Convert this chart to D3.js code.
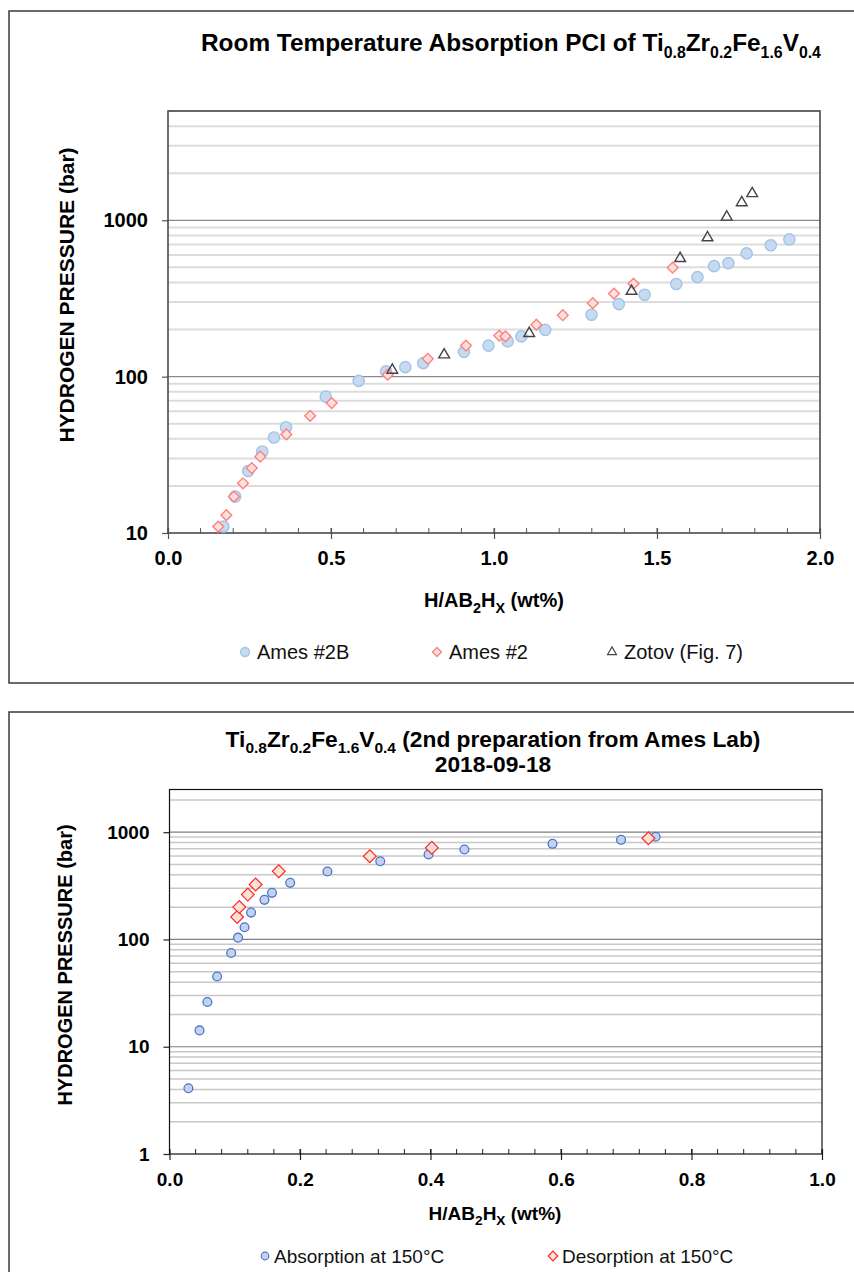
<!DOCTYPE html>
<html><head><meta charset="utf-8">
<script src="https://cdn.jsdelivr.net/npm/d3@7"></script>
<style>
body{margin:0;background:#fff;}
svg{display:block;font-family:"Liberation Sans",Arial,sans-serif;}
</style>
</head><body>
<svg id="c" width="854" height="1272"></svg>
<script>
// ---------- Top chart data: [H wt%, pressure bar] ----------
const ames2B = [[0.170,11],[0.206,17.1],[0.246,24.9],[0.289,33.2],[0.325,40.8],[0.362,47.5],[0.484,74.5],[0.585,94],[0.669,108],[0.728,115],[0.783,122],[0.908,144],[0.983,158],[1.042,168],[1.084,181],[1.157,199],[1.299,249],[1.383,291],[1.462,334],[1.559,391],[1.624,433],[1.675,509],[1.719,532],[1.775,614],[1.849,692],[1.906,755]];
const ames2 = [[0.154,11],[0.179,13],[0.202,17.1],[0.230,20.8],[0.257,26],[0.283,30.8],[0.363,42.7],[0.436,56.2],[0.502,67.8],[0.674,103],[0.797,130],[0.914,158],[1.016,183],[1.035,181],[1.130,215],[1.211,247],[1.303,295],[1.368,340],[1.428,393],[1.548,498]];
const zotov = [[0.688,110],[0.847,138],[1.108,189],[1.422,352],[1.571,570],[1.655,774],[1.714,1050],[1.760,1297],[1.792,1483]];
const topXTicks = [0, 0.5, 1.0, 1.5, 2.0];
const topYTicks = [10, 100, 1000];
const topLegend = ["Ames #2B", "Ames #2", "Zotov (Fig. 7)"];

// ---------- Bottom chart data ----------
const absorption150 = [[0.029,4.1],[0.046,14.2],[0.058,26.1],[0.073,45.2],[0.0945,74.8],[0.105,104],[0.115,130],[0.125,178],[0.1455,234],[0.157,272],[0.185,337],[0.242,430],[0.323,536],[0.397,619],[0.452,689],[0.587,779],[0.692,849],[0.745,906]];
const desorption150 = [[0.1037,162],[0.107,201],[0.120,262],[0.132,325],[0.1675,433],[0.307,597],[0.402,715],[0.734,879]];
const botXTicks = [0, 0.2, 0.4, 0.6, 0.8, 1.0];
const botYTicks = [1, 10, 100, 1000];
const botLegend = ["Absorption at 150°C", "Desorption at 150°C"];

const svg = d3.select("#c");

function rich(g, parts, fs, subScale, attrs) {
  const t = g.append("text");
  for (const k in attrs) t.attr(k, attrs[k]);
  let inSub = false;
  parts.forEach(([s, sub]) => {
    const ts = t.append("tspan").text(s);
    if (sub && !inSub) { ts.attr("dy", fs*0.28).attr("font-size", fs*subScale); inSub = true; }
    else if (sub) { ts.attr("font-size", fs*subScale); }
    else if (!sub && inSub) { ts.attr("dy", -fs*0.28).attr("font-size", fs); inSub = false; }
    else ts.attr("font-size", fs);
  });
  return t;
}
function fitRich(g, parts, fs0, subScale, attrs, targetW) {
  let t = rich(g, parts, fs0, subScale, attrs);
  const w = t.node().getBBox().width;
  const fs = fs0 * targetW / w;
  t.remove();
  return rich(g, parts, fs, subScale, attrs);
}

function gridAndAxes(g, x, y, cfg) {
  const [x0, x1] = x.range(); const [yb, yt] = y.range();
  const [d0, d1] = y.domain();
  const minor = [], major = [];
  for (let dec = Math.pow(10, Math.floor(Math.log10(d0))); dec <= d1; dec *= 10) {
    for (let k = 1; k <= 9; k++) {
      const v = k*dec;
      if (v < d0 || v > d1) continue;
      (k === 1 ? major : minor).push(v);
    }
  }
  g.selectAll(".gmin").data(minor).join("line")
    .attr("x1", x0).attr("x2", x1).attr("y1", d => y(d)).attr("y2", d => y(d))
    .attr("stroke", cfg.minorColor).attr("stroke-width", cfg.minorWidth);
  g.selectAll(".gmaj").data(major.filter(v => v !== d0)).join("line")
    .attr("x1", x0).attr("x2", x1).attr("y1", d => y(d)).attr("y2", d => y(d))
    .attr("stroke", cfg.majorColor).attr("stroke-width", 1.2);
  const mt = d3.range(x.domain()[0], x.domain()[1] + 1e-9, cfg.minorStep);
  g.selectAll(".mt").data(mt).join("line")
    .attr("x1", d => x(d)).attr("x2", d => x(d)).attr("y1", yb).attr("y2", yb - 5)
    .attr("stroke", cfg.axisColor).attr("stroke-width", 1);
  const xa = g.append("g").attr("transform", `translate(0,${yb})`)
    .call(d3.axisBottom(x).tickValues(cfg.xTicks).tickFormat(d3.format(".1f")).tickSize(6).tickPadding(cfg.xPad));
  xa.select(".domain").remove();
  xa.selectAll(".tick line").attr("stroke", cfg.axisColor).attr("y1", -5).attr("stroke-width", 1.2);
  xa.selectAll(".tick text").attr("font-size", cfg.tickFs).attr("font-weight", "bold")
    .attr("fill", "#000").attr("font-family", '"Liberation Sans",Arial,sans-serif');
  const ya = g.append("g").attr("transform", `translate(${x0},0)`)
    .call(d3.axisLeft(y).tickValues(cfg.yTicks).tickFormat(d3.format("d")).tickSize(6).tickPadding(cfg.yPad));
  ya.select(".domain").remove();
  ya.selectAll(".tick line").attr("stroke", cfg.axisColor).attr("stroke-width", 1.2);
  ya.selectAll(".tick text").attr("font-size", cfg.tickFs).attr("font-weight", "bold")
    .attr("fill", "#000").attr("font-family", '"Liberation Sans",Arial,sans-serif');
  g.append("rect").attr("x", x0).attr("y", yt).attr("width", x1 - x0).attr("height", yb - yt)
    .attr("fill", "none").attr("stroke", cfg.borderColor).attr("stroke-width", cfg.borderWidth);
}

// ================= TOP CHART =================
const gT = svg.append("g");
gT.append("rect").attr("x", 9).attr("y", 11).attr("width", 870).attr("height", 672)
  .attr("fill", "#fff").attr("stroke", "#3a3a3a").attr("stroke-width", 1.5);
const xT = d3.scaleLinear().domain([0, 2]).range([168, 820]);
const yT = d3.scaleLog().domain([10, 5000]).range([533, 111]);
gridAndAxes(gT, xT, yT, {minorColor:"#dcdcdc", minorWidth:2, majorColor:"#8a8a8a", axisColor:"#555",
  minorStep:0.1, xTicks:topXTicks, yTicks:topYTicks, tickFs:20, xPad:12, yPad:14, borderColor:"#4a4a4a", borderWidth:1.6});

fitRich(gT, [["Room Temperature Absorption PCI of Ti",0],["0.8",1],["Zr",0],["0.2",1],["Fe",0],["1.6",1],["V",0],["0.4",1]],
  23, 0.65, {x:201, y:51, "font-weight":"bold", fill:"#000"}, 621);

gT.append("text").attr("transform", "translate(74,295) rotate(-90)").attr("text-anchor", "middle")
  .attr("font-size", 21).attr("font-weight", "bold").attr("fill", "#000").text("HYDROGEN PRESSURE (bar)");
rich(gT, [["H/AB",0],["2",1],["H",0],["X",1],[" (wt%)",0]], 20, 0.72, {x:494, y:607, "text-anchor":"middle", "font-weight":"bold", fill:"#000"});

const circT = {fill:"#c6daf0", stroke:"#a3c3e8", sw:1.4};
const diaT = {fill:"#fde2dc", stroke:"#ff7f7f", sw:1.4};
gT.append("g").selectAll("circle").data(ames2B).join("circle")
  .attr("cx", d => xT(d[0])).attr("cy", d => yT(d[1])).attr("r", 5.6)
  .attr("fill", circT.fill).attr("stroke", circT.stroke).attr("stroke-width", circT.sw);
gT.append("g").selectAll("path").data(ames2).join("path")
  .attr("d", d3.symbol(d3.symbolSquare, 58))
  .attr("transform", d => `translate(${xT(d[0])},${yT(d[1])}) rotate(45)`)
  .attr("fill", diaT.fill).attr("stroke", diaT.stroke).attr("stroke-width", diaT.sw);
gT.append("g").selectAll("path").data(zotov).join("path")
  .attr("d", d3.symbol(d3.symbolTriangle, 50))
  .attr("transform", d => `translate(${xT(d[0])},${yT(d[1])})`)
  .attr("fill", "none").attr("stroke", "#444").attr("stroke-width", 1.4);

const lgT = gT.append("g");
const lgTx = [245, 437, 612];
lgT.append("circle").attr("cx", lgTx[0]).attr("cy", 652).attr("r", 4.5)
  .attr("fill", circT.fill).attr("stroke", circT.stroke).attr("stroke-width", 1.3);
lgT.append("path").attr("d", d3.symbol(d3.symbolSquare, 40)).attr("transform", `translate(${lgTx[1]},652) rotate(45)`)
  .attr("fill", diaT.fill).attr("stroke", diaT.stroke).attr("stroke-width", 1.3);
lgT.append("path").attr("d", d3.symbol(d3.symbolTriangle, 34)).attr("transform", `translate(${lgTx[2]},652)`)
  .attr("fill", "none").attr("stroke", "#444").attr("stroke-width", 1.2);
topLegend.forEach((s, i) => {
  lgT.append("text").attr("x", lgTx[i] + 12).attr("y", 659).attr("font-size", 20).attr("fill", "#111").text(s);
});

// ================= BOTTOM CHART =================
const gB = svg.append("g");
gB.append("rect").attr("x", 9).attr("y", 712).attr("width", 870).attr("height", 600)
  .attr("fill", "#fff").attr("stroke", "#3a3a3a").attr("stroke-width", 1.5);
const xB = d3.scaleLinear().domain([0, 1]).range([169.5, 822]);
const yB = d3.scaleLog().domain([1, 2500]).range([1154, 789.5]);
gridAndAxes(gB, xB, yB, {minorColor:"#c8c8c8", minorWidth:1.5, majorColor:"#7f7f7f", axisColor:"#222",
  minorStep:0.04, xTicks:botXTicks, yTicks:botYTicks, tickFs:19, xPad:13, yPad:14, borderColor:"#111", borderWidth:1.2});

const bt = fitRich(gB, [["Ti",0],["0.8",1],["Zr",0],["0.2",1],["Fe",0],["1.6",1],["V",0],["0.4",1],[" (2nd preparation from Ames Lab)",0]],
  23, 0.68, {x:493, y:747, "text-anchor":"middle", "font-weight":"bold", fill:"#000"}, 535);
const btFs = +bt.select("tspan").attr("font-size");
gB.append("text").attr("x", 493).attr("y", 772).attr("text-anchor", "middle").attr("font-size", btFs)
  .attr("font-weight", "bold").attr("fill", "#000").text("2018-09-18");

gB.append("text").attr("transform", "translate(72,965) rotate(-90)").attr("text-anchor", "middle")
  .attr("font-size", 20).attr("font-weight", "bold").attr("fill", "#000").text("HYDROGEN PRESSURE (bar)");
rich(gB, [["H/AB",0],["2",1],["H",0],["X",1],[" (wt%)",0]], 19, 0.72, {x:495, y:1220, "text-anchor":"middle", "font-weight":"bold", fill:"#000"});

const circB = {fill:"#c3d3ef", stroke:"#4b76c9", sw:1.3};
const diaB = {fill:"#fbe2d6", stroke:"#ff2a2a", sw:1.2};
gB.append("g").selectAll("circle").data(absorption150).join("circle")
  .attr("cx", d => xB(d[0])).attr("cy", d => yB(d[1])).attr("r", 4.4)
  .attr("fill", circB.fill).attr("stroke", circB.stroke).attr("stroke-width", circB.sw);
gB.append("g").selectAll("path").data(desorption150).join("path")
  .attr("d", d3.symbol(d3.symbolSquare, 82))
  .attr("transform", d => `translate(${xB(d[0])},${yB(d[1])}) rotate(45)`)
  .attr("fill", diaB.fill).attr("stroke", diaB.stroke).attr("stroke-width", diaB.sw);

const lgB = gB.append("g");
const lgBx = [265, 553];
lgB.append("circle").attr("cx", lgBx[0]).attr("cy", 1256).attr("r", 3.8)
  .attr("fill", circB.fill).attr("stroke", circB.stroke).attr("stroke-width", 1.2);
lgB.append("path").attr("d", d3.symbol(d3.symbolSquare, 46)).attr("transform", `translate(${lgBx[1]},1256) rotate(45)`)
  .attr("fill", diaB.fill).attr("stroke", diaB.stroke).attr("stroke-width", 1.2);
botLegend.forEach((s, i) => {
  lgB.append("text").attr("x", lgBx[i] + 9).attr("y", 1263).attr("font-size", 19).attr("fill", "#111").text(s);
});
</script>
</body></html>
